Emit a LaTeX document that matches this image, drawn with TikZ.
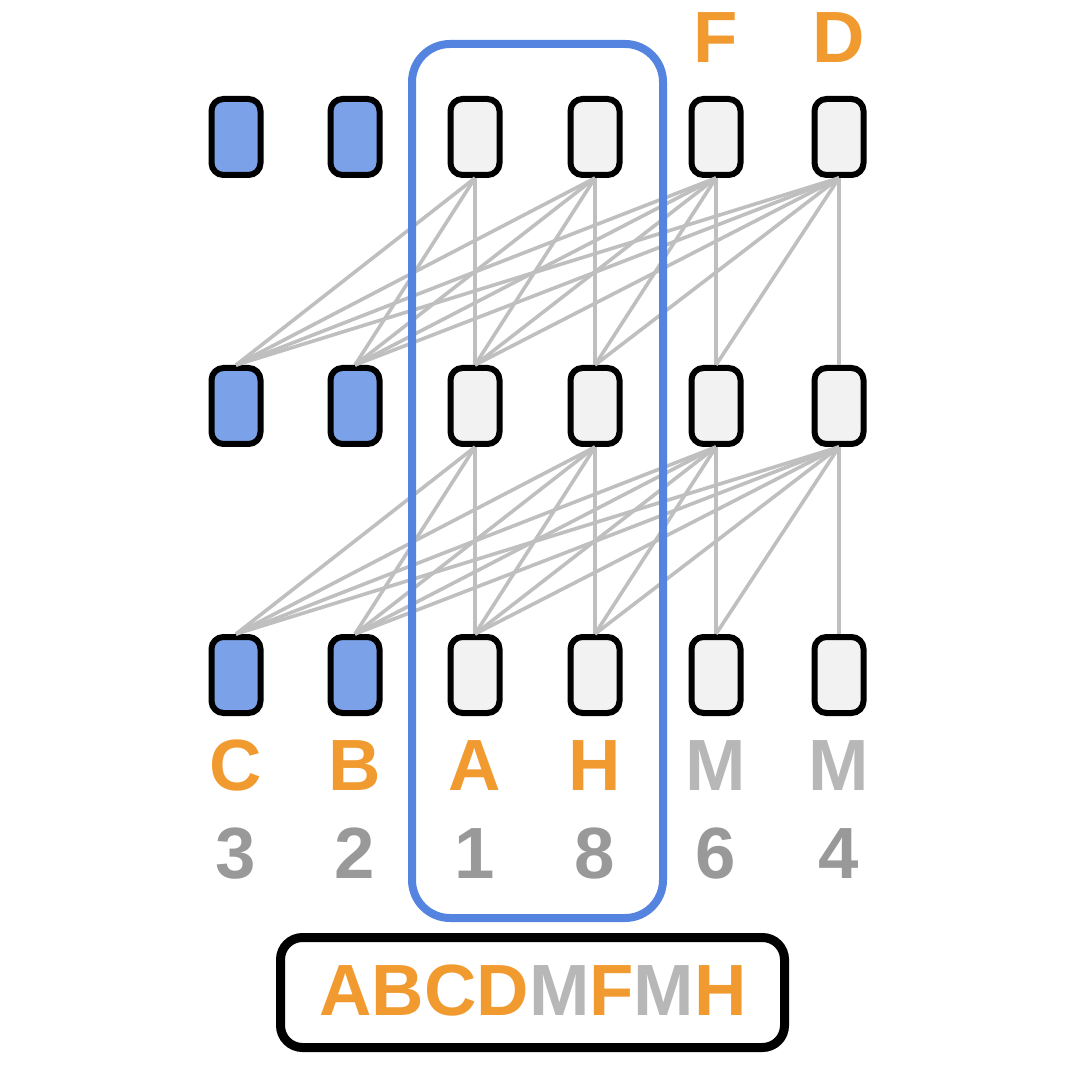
\documentclass[tikz,border=0pt]{standalone}
\usepackage{fontspec}
\setmainfont{Liberation Sans}
\definecolor{orng}{HTML}{F19A30}
\definecolor{mgray}{HTML}{B7B7B7}
\definecolor{ngray}{HTML}{999999}
\definecolor{lgray}{HTML}{BFBFBF}
\definecolor{selblue}{HTML}{5484E0}
\definecolor{fillblue}{HTML}{7BA2E8}
\definecolor{fillgray}{HTML}{F2F2F2}
\newcommand\labfont{\fontsize{36.3pt}{40pt}\selectfont\bfseries}
\tikzset{
  cell/.style={draw=black, line width=3pt, rounded corners=6pt, minimum width=24.5pt, minimum height=38pt, inner sep=0pt},
  bluecell/.style={cell, fill=fillblue},
  graycell/.style={cell, fill=fillgray},
  edge/.style={draw=lgray, line width=1.8pt},
  lab/.style={anchor=base, inner sep=0pt, font=\labfont},
  selbox/.style={draw=selblue, line width=4pt, rounded corners=19pt},
  seqbox/.style={draw=black, line width=4.5pt, rounded corners=11pt, minimum width=252pt, minimum height=55pt, inner sep=0pt}
}
\begin{document}
\begin{tikzpicture}[x=0.5pt,y=-0.5pt]
\useasboundingbox (0,0) rectangle (1069,1068);
% cells
\foreach \i/\x/\s in {0/236/bluecell,1/355/bluecell,2/475/graycell,3/595/graycell,4/716/graycell,5/839/graycell}{
  \node[\s] (t\i) at (\x,137) {};
  \node[\s] (m\i) at (\x,406) {};
  \node[\s] (b\i) at (\x,675) {};
}
% connections
\foreach \u in {2,...,5}{
  \foreach \l in {0,...,\u}{
    \draw[edge] (t\u.south) -- (m\l.north);
    \draw[edge] (m\u.south) -- (b\l.north);
  }
}
% selection frame
\draw[selbox] (412,44) rectangle (663,918);
% top labels
\node[lab, text=orng] (topF) at (716,63) {F};
\node[lab, text=orng] (topD) at (839,63) {D};
% bottom letters
\node[lab, text=orng] (lC) at (236,790) {C};
\node[lab, text=orng] (lB) at (355,790) {B};
\node[lab, text=orng] (lA) at (475,790) {A};
\node[lab, text=orng] (lH) at (595,790) {H};
\node[lab, text=mgray] (lM1) at (716,790) {M};
\node[lab, text=mgray] (lM2) at (839,790) {M};
% numbers
\node[lab, text=ngray] (n3) at (236,878) {3};
\node[lab, text=ngray] (n2) at (355,878) {2};
\node[lab, text=ngray] (n1) at (475,878) {1};
\node[lab, text=ngray] (n8) at (595,878) {8};
\node[lab, text=ngray] (n6) at (716,878) {6};
\node[lab, text=ngray] (n4) at (839,878) {4};
% sequence box
\node[seqbox] (seq) at (532.5,992.5) {};
\node[lab] (seqtxt) at (533,1015) {\textcolor{orng}{ABCD}\textcolor{mgray}{M}\textcolor{orng}{F}\textcolor{mgray}{M}\textcolor{orng}{H}};
\end{tikzpicture}
\end{document}
